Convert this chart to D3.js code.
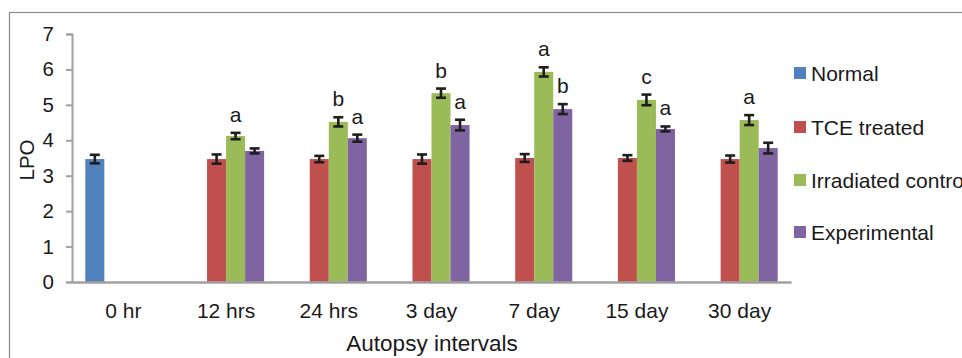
<!DOCTYPE html>
<html>
<head>
<meta charset="utf-8">
<script src="https://cdn.jsdelivr.net/npm/d3@7/dist/d3.min.js"></script>
<style>
  html, body { margin: 0; padding: 0; background: #fff; }
  svg { display: block; font-family: "Liberation Sans", Arial, sans-serif; }
</style>
</head>
<body>
<svg id="chart" width="962" height="358"></svg>
<script>
const categories = ["0 hr", "12 hrs", "24 hrs", "3 day", "7 day", "15 day", "30 day"];
const seriesNames = ["Normal", "TCE treated", "Irradiated control", "Experimental"];
const normal       = [3.47, null, null, null, null, null, null];
const tce          = [null, 3.47, 3.47, 3.47, 3.50, 3.50, 3.47];
const irradiated   = [null, 4.12, 4.52, 5.33, 5.93, 5.14, 4.57];
const experimental = [null, 3.70, 4.06, 4.43, 4.88, 4.32, 3.78];
const normalErr       = [0.12, null, null, null, null, null, null];
const tceErr          = [null, 0.13, 0.09, 0.13, 0.11, 0.08, 0.10];
const irradiatedErr   = [null, 0.09, 0.13, 0.13, 0.13, 0.15, 0.14];
const experimentalErr = [null, 0.07, 0.10, 0.15, 0.14, 0.07, 0.15];
const irradiatedLetters   = ["", "a", "b", "b", "a", "c", "a"];
const experimentalLetters = ["", "", "a", "a", "b", "a", ""];
const yTicks = [0, 1, 2, 3, 4, 5, 6, 7];
const colors = ["#4F81BD", "#C0504D", "#9BBB59", "#8064A2"];

const values = [normal, tce, irradiated, experimental];
const errors = [normalErr, tceErr, irradiatedErr, experimentalErr];
const letters = [null, null, irradiatedLetters, experimentalLetters];

const svg = d3.select("#chart");

// outer frame
svg.append("rect").attr("x", 9.5).attr("y", 12.5).attr("width", 1000).attr("height", 400)
  .attr("fill", "none").attr("stroke", "#8c8c8c").attr("stroke-width", 1.2);

const x0 = d3.scaleBand().domain(categories).range([72, 791]).padding(0);
const x1 = d3.scaleBand().domain(seriesNames).range([0, x0.bandwidth()]).paddingInner(0).paddingOuter(0.7);
const y = d3.scaleLinear().domain([0, 7]).range([282, 34]);

const axisColor = "#a0a0a0";
const textColor = "#1a1a1a";

// y axis
const yAxis = svg.append("g").attr("transform", "translate(72,0)")
  .call(d3.axisLeft(y).tickValues(yTicks).tickSize(6).tickPadding(12).tickFormat(d3.format("d")));
yAxis.select(".domain").attr("stroke", axisColor).attr("stroke-width", 2);
yAxis.selectAll(".tick line").attr("stroke", axisColor).attr("stroke-width", 2);
yAxis.selectAll(".tick text").attr("font-size", 20.5).attr("fill", textColor)
  .attr("font-family", "Liberation Sans, Arial, sans-serif");

// bars
const flat = [];
values.forEach((arr, si) => arr.forEach((v, ci) => {
  if (v != null) flat.push({ s: si, c: ci, v: v, e: errors[si][ci], l: letters[si] ? letters[si][ci] : "" });
}));

svg.append("g").selectAll("rect").data(flat).join("rect")
  .attr("x", d => x0(categories[d.c]) + x1(seriesNames[d.s]))
  .attr("y", d => y(d.v))
  .attr("width", x1.bandwidth())
  .attr("height", d => y(0) - y(d.v))
  .attr("fill", d => colors[d.s]);

// x axis
const xAxis = svg.append("g").attr("transform", "translate(0,282)")
  .call(d3.axisBottom(x0).tickSize(0).tickPadding(21));
xAxis.select(".domain").attr("stroke", axisColor).attr("stroke-width", 2.5);
xAxis.selectAll(".tick text").attr("font-size", 21).attr("fill", textColor)
  .attr("font-family", "Liberation Sans, Arial, sans-serif");

// error bars
const eb = svg.append("g").attr("stroke", "#1e1e1e").attr("stroke-width", 2.6);
flat.forEach(d => {
  const cx = x0(categories[d.c]) + x1(seriesNames[d.s]) + x1.bandwidth() / 2;
  const yt = y(d.v + d.e), yb = y(d.v - d.e);
  eb.append("line").attr("x1", cx).attr("x2", cx).attr("y1", yt).attr("y2", yb);
  eb.append("line").attr("x1", cx - 5).attr("x2", cx + 5).attr("y1", yt).attr("y2", yt);
  eb.append("line").attr("x1", cx - 5).attr("x2", cx + 5).attr("y1", yb).attr("y2", yb);
});

// significance letters
svg.append("g").selectAll("text").data(flat.filter(d => d.l)).join("text")
  .attr("x", d => x0(categories[d.c]) + x1(seriesNames[d.s]) + x1.bandwidth() / 2)
  .attr("y", d => y(d.v + d.e) - 11)
  .attr("text-anchor", "middle")
  .attr("font-size", 21).attr("fill", textColor)
  .text(d => d.l);

// axis titles
svg.append("text").attr("transform", "translate(34,160) rotate(-90)")
  .attr("text-anchor", "middle").attr("font-size", 20.5).attr("fill", textColor).text("LPO");
svg.append("text").attr("x", 432).attr("y", 351)
  .attr("text-anchor", "middle").attr("font-size", 22.5).attr("fill", textColor).text("Autopsy intervals");

// legend
const legendY = [73, 127, 180, 232];
const lg = svg.append("g");
seriesNames.forEach((n, i) => {
  lg.append("rect").attr("x", 794).attr("y", legendY[i] - 6).attr("width", 12).attr("height", 12).attr("fill", colors[i]);
  lg.append("text").attr("x", 811).attr("y", legendY[i] + 7.5).attr("font-size", 21).attr("fill", textColor).text(n);
});
</script>
</body>
</html>
